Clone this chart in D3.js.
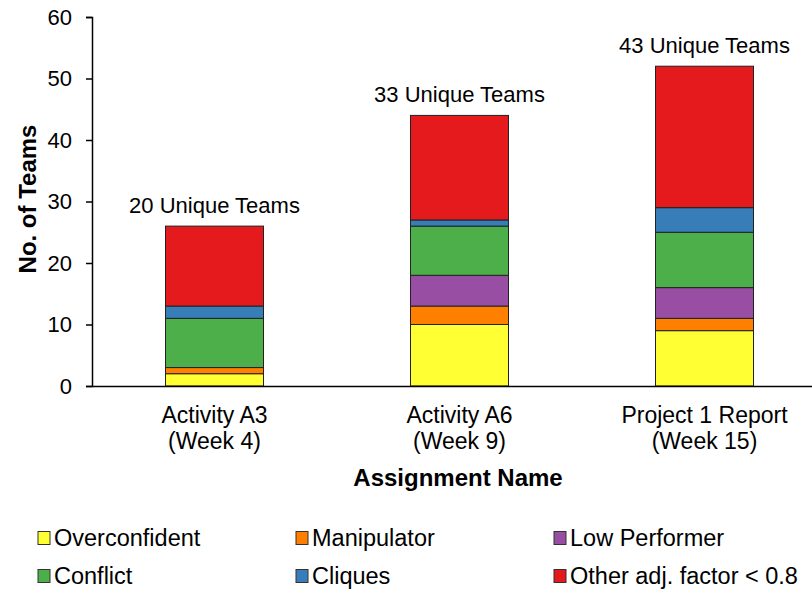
<!DOCTYPE html>
<html>
<head>
<meta charset="utf-8">
<script src="https://cdn.jsdelivr.net/npm/d3@7"></script>
<style>
body { margin: 0; background: #fff; }
text { font-family: "Liberation Sans", Arial, sans-serif; fill: #000; }
</style>
</head>
<body>
<script>
let width = 812;
let height = 592;

let categories = ["Activity A3|(Week 4)", "Activity A6|(Week 9)", "Project 1 Report|(Week 15)"];
let uniqueTeams = ["20 Unique Teams", "33 Unique Teams", "43 Unique Teams"];
let seriesNames = ["Overconfident", "Manipulator", "Low Performer", "Conflict", "Cliques", "Other adj. factor < 0.8"];
let overconfident = [2, 10, 9];
let manipulator = [1, 3, 2];
let lowPerformer = [0, 5, 5];
let conflict = [8, 8, 9];
let cliques = [2, 1, 4];
let other = [13, 17, 23];
let colors = ["#FFFF33", "#FF7F00", "#984EA3", "#4DAF4A", "#377EB8", "#E41A1C"];
let yTicks = [0, 10, 20, 30, 40, 50, 60];

let seriesValues = [overconfident, manipulator, lowPerformer, conflict, cliques, other];
let keys = seriesNames;
let rows = categories.map((c, i) => {
	let r = { cat: c };
	keys.forEach((k, j) => r[k] = seriesValues[j][i]);
	return r;
});
let stacked = d3.stack().keys(keys)(rows);

let svg = d3.select("body").append("svg")
	.attr("width", width)
	.attr("height", height);

let x = d3.scaleBand().domain(categories).range([92, 827]).paddingInner(0.6).paddingOuter(0.3);
let y = d3.scaleLinear().domain([0, 60]).range([386, 17]);

// bars
svg.append("g").selectAll("g")
	.data(stacked)
	.enter().append("g")
	.attr("fill", (d, i) => colors[i])
	.selectAll("rect")
	.data(d => d)
	.enter().append("rect")
	.attr("x", d => x(d.data.cat))
	.attr("width", x.bandwidth())
	.attr("y", d => y(d[1]))
	.attr("height", d => y(d[0]) - y(d[1]))
	.attr("stroke", "#222")
	.attr("stroke-width", 1);

// totals labels
let totals = categories.map((c, i) => d3.sum(seriesValues, s => s[i]));
svg.append("g").selectAll("text")
	.data(categories)
	.enter().append("text")
	.attr("x", d => x(d) + x.bandwidth() / 2)
	.attr("y", (d, i) => y(totals[i]) - 13)
	.attr("text-anchor", "middle")
	.style("font-size", "22px")
	.text((d, i) => uniqueTeams[i]);

// y axis
let yAxis = svg.append("g")
	.attr("transform", "translate(92,0)")
	.call(d3.axisLeft(y).tickValues(yTicks).tickSize(6).tickPadding(14));
yAxis.selectAll("path, line").attr("stroke", "#000").attr("stroke-width", 1.5);
yAxis.selectAll("text").style("font-size", "22px").attr("font-family", null);

// x axis
let xAxis = svg.append("g")
	.attr("transform", "translate(0,386)")
	.call(d3.axisBottom(x).tickSize(0).tickFormat(""));
xAxis.select("path").attr("stroke", "#000").attr("stroke-width", 1.5);

svg.append("g").selectAll("text")
	.data(categories)
	.enter().append("text")
	.attr("text-anchor", "middle")
	.style("font-size", "23px")
	.each(function(d) {
		let parts = d.split("|");
		let t = d3.select(this);
		parts.forEach((p, i) => {
			t.append("tspan")
				.attr("x", x(d) + x.bandwidth() / 2)
				.attr("y", 423 + i * 26)
				.text(p);
		});
	});

// axis titles
svg.append("text")
	.attr("x", 458)
	.attr("y", 486)
	.attr("text-anchor", "middle")
	.style("font-size", "24px")
	.style("font-weight", "bold")
	.text("Assignment Name");

svg.append("text")
	.attr("transform", "translate(36,199) rotate(-90)")
	.attr("text-anchor", "middle")
	.style("font-size", "24px")
	.style("font-weight", "bold")
	.text("No. of Teams");

// legend
let legend = svg.append("g").selectAll("g")
	.data(seriesNames)
	.enter().append("g")
	.attr("transform", (d, i) => `translate(${38 + (i % 3) * 258},${538 + Math.floor(i / 3) * 38})`);

legend.append("rect")
	.attr("x", 0)
	.attr("y", -6.5)
	.attr("width", 12)
	.attr("height", 13)
	.attr("fill", (d, i) => colors[i])
	.attr("stroke", "#333")
	.attr("stroke-width", 1);

legend.append("text")
	.attr("x", 16)
	.attr("y", 8)
	.style("font-size", "23.5px")
	.text(d => d);
</script>
</body>
</html>
